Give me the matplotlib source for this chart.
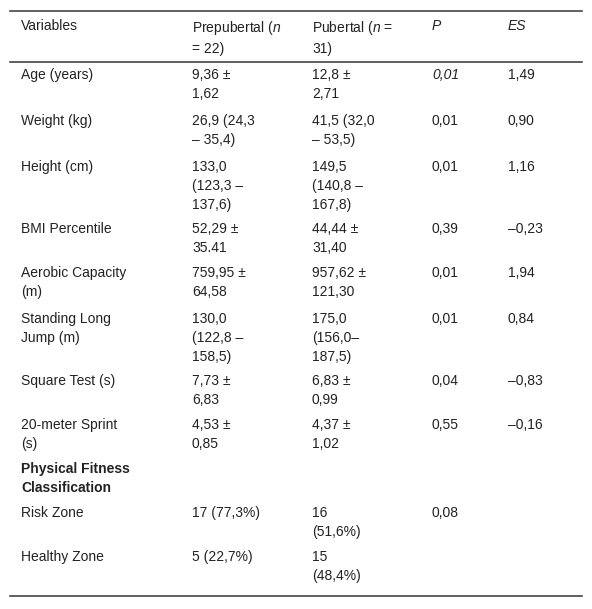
import matplotlib.pyplot as plt

plt.rcParams["mathtext.fontset"] = "custom"
plt.rcParams["mathtext.it"] = "Liberation Sans:italic"
plt.rcParams["mathtext.rm"] = "Liberation Sans"

W, H = 592, 609
header = ["Variables", "Prepubertal ($\\it{n}$\n= 22)", "Pubertal ($\\it{n}$ =\n31)", "P", "ES"]
variables = ["Age (years)", "Weight (kg)", "Height (cm)", "BMI Percentile", "Aerobic Capacity\n(m)",
             "Standing Long\nJump (m)", "Square Test (s)", "20-meter Sprint\n(s)",
             "Physical Fitness\nClassification", "Risk Zone", "Healthy Zone"]
prepubertal = ["9,36 ±\n1,62", "26,9 (24,3\n– 35,4)", "133,0\n(123,3 –\n137,6)", "52,29 ±\n35.41",
               "759,95 ±\n64,58", "130,0\n(122,8 –\n158,5)", "7,73 ±\n6,83", "4,53 ±\n0,85", "",
               "17 (77,3%)", "5 (22,7%)"]
pubertal = ["12,8 ±\n2,71", "41,5 (32,0\n– 53,5)", "149,5\n(140,8 –\n167,8)", "44,44 ±\n31,40",
            "957,62 ±\n121,30", "175,0\n(156,0–\n187,5)", "6,83 ±\n0,99", "4,37 ±\n1,02", "",
            "16\n(51,6%)", "15\n(48,4%)"]
p_values = ["0,01", "0,01", "0,01", "0,39", "0,01", "0,01", "0,04", "0,55", "", "0,08", ""]
es_values = ["1,49", "0,90", "1,16", "–0,23", "1,94", "0,84", "–0,83", "–0,16", "", "", ""]

row_tops = [68, 114, 160, 222, 266, 312, 374, 418, 462, 506, 550]
col_x = [21, 192, 312, 432, 508]

fig = plt.figure(figsize=(W / 100, H / 100), dpi=100)
fig.patch.set_facecolor("white")

def put(x, y, s, **kw):
    fig.text(x / W, 1 - y / H, s, ha="left", va="top", fontsize=10, color="#222222",
             linespacing=1.45, family="Liberation Sans", **kw)

for i, h in enumerate(header):
    put(col_x[i], 19, h, style="italic" if h in ("P", "ES") else "normal")

for i, top in enumerate(row_tops):
    bold = i == 8
    put(col_x[0], top, variables[i], weight="bold" if bold else "normal")
    put(col_x[1], top, prepubertal[i])
    put(col_x[2], top, pubertal[i])
    put(col_x[3], top, p_values[i], style="italic" if i == 0 else "normal")
    put(col_x[4], top, es_values[i])

for y in (11, 62, 596):
    fig.add_artist(plt.Line2D([10 / W, 582 / W], [1 - y / H, 1 - y / H], color="#444444", lw=1.2))

fig.savefig("out.png", dpi=100)
